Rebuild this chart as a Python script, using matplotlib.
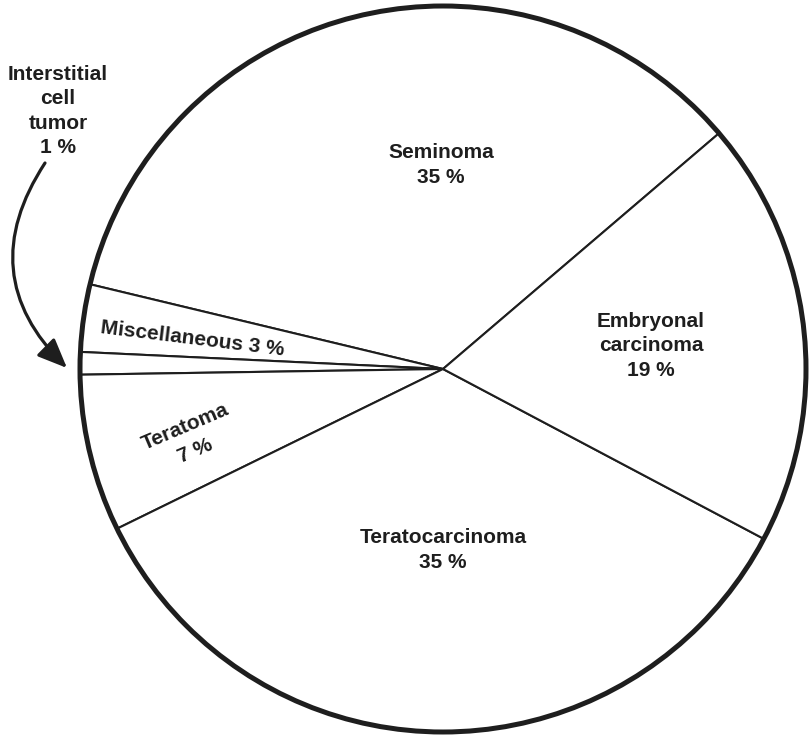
import matplotlib.pyplot as plt
from matplotlib.patches import Circle

plt.rcParams['font.family'] = ['Liberation Sans', 'DejaVu Sans']

# testicular tumour types, counter-clockwise from the upper right
tumor_types = ["Seminoma", "Miscellaneous", "Interstitial cell tumor",
               "Teratoma", "Teratocarcinoma", "Embryonal carcinoma"]
percent = [35, 3, 1, 7, 35, 19]

INK = "#1e1e1e"

fig = plt.figure(figsize=(8.11, 7.40), dpi=100)
ax = fig.add_axes([0, 0, 1, 1])

ax.pie(percent, startangle=40.5, counterclock=True, radius=1.0,
       colors=["white"] * len(percent),
       wedgeprops=dict(edgecolor=INK, linewidth=1.5))
ax.add_patch(Circle((0, 0), 1.0, fill=False, edgecolor=INK, linewidth=3.6, zorder=5))

# pixel layout helpers: pie centre at (443, 369), radius 363 px
CX, CY, R = 443, 369, 363
ax.set_xlim(-CX / R, (811 - CX) / R)
ax.set_ylim(-(740 - CY) / R, CY / R)
ax.set_aspect("auto")
ax.axis("off")


def px(x, y):
    return (x - CX) / R, (CY - y) / R


txt = dict(fontsize=15, fontweight="bold", color=INK, ha="center",
           va="center", multialignment="center", linespacing=1.36)

ax.text(*px(441, 165), f"{tumor_types[0]}\n{percent[0]} %", **txt)
ax.text(*px(651, 346), "Embryonal\ncarcinoma\n" + f"{percent[5]} %", **txt)
ax.text(*px(443, 550), f"{tumor_types[4]}\n{percent[4]} %", **txt)
ax.text(*px(192, 339), f"{tumor_types[1]} {percent[1]} %", rotation=-7,
        rotation_mode="anchor", **txt)
ax.text(*px(190, 439), f"{tumor_types[3]}\n{percent[3]} %", rotation=23,
        rotation_mode="anchor", **{**txt, "linespacing": 1.5})
ax.text(*px(58, 111), "Interstitial\ncell\ntumor\n" + f"{percent[2]} %", **txt)

# curved pointer from the small-slice label to its wedge
ax.annotate("", xy=px(67, 368), xytext=px(45, 163),
            arrowprops=dict(arrowstyle="-|>,head_length=0.9,head_width=0.38",
                            mutation_scale=20, color=INK, lw=2.3,
                            shrinkA=0, shrinkB=0,
                            connectionstyle="arc3,rad=0.41"))

fig.savefig("out.png", dpi=100, facecolor="white")
